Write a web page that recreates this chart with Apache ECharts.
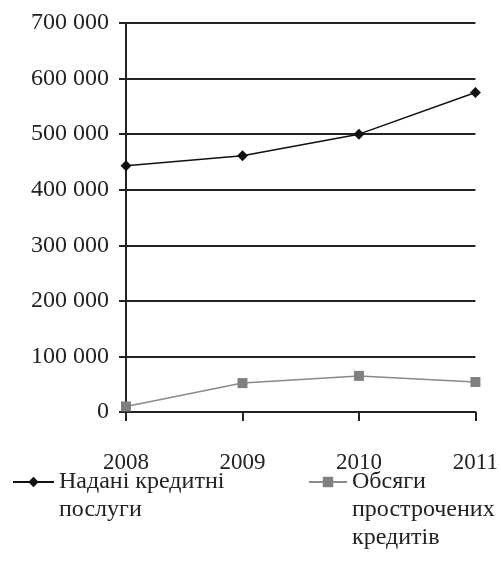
<!DOCTYPE html>
<html>
<head>
<meta charset="utf-8">
<script src="https://cdn.jsdelivr.net/npm/echarts@6/dist/echarts.min.js"></script>
<style>
  html, body { margin: 0; padding: 0; background: #fff; }
  #chart { width: 501px; height: 571px; }
</style>
</head>
<body>
<div id="chart"></div>
<script>
// дані
var years = ['2008', '2009', '2010', '2011'];
var credits = [443000, 461000, 500000, 575000];
var overdue = [10000, 52000, 65000, 54000];
var seriesNames = ['Надані кредитні\nпослуги', 'Обсяги\nпрострочених\nкредитів'];

var font = '"Liberation Serif", "DejaVu Serif", serif';
var chart = echarts.init(document.getElementById('chart'));

// порожні рядки зверху, щоб значок стояв навпроти першого рядка
function padLines(name) {
  var n = name.split('\n').length - 1;
  return new Array(n + 1).join('\n') + name;
}

chart.setOption({
  animation: false,
  grid: { left: 126, right: 23, top: 23, bottom: 159 },
  legend: [
    {
      data: [seriesNames[0]],
      left: 12, top: 440, padding: 0,
      itemWidth: 41, itemHeight: 13,
      formatter: padLines,
      textStyle: { fontFamily: font, fontSize: 24, color: '#222', lineHeight: 28 }
    },
    {
      data: [seriesNames[1]],
      left: 308, top: 412, padding: 0,
      itemWidth: 38, itemHeight: 13,
      formatter: padLines,
      textStyle: { fontFamily: font, fontSize: 24, color: '#222', lineHeight: 28 }
    }
  ],
  xAxis: {
    type: 'category',
    data: years,
    boundaryGap: false,
    axisLine: { lineStyle: { color: '#222', width: 2 } },
    axisTick: { length: 9, lineStyle: { color: '#222', width: 2 } },
    axisLabel: { margin: 39, fontFamily: font, fontSize: 23, color: '#222' }
  },
  yAxis: {
    type: 'value',
    min: 0, max: 700000, interval: 100000,
    axisLine: { show: true, lineStyle: { color: '#222', width: 2 } },
    axisTick: { show: true, length: 7, lineStyle: { color: '#222', width: 2 } },
    splitLine: { lineStyle: { color: '#222', width: 2 } },
    axisLabel: {
      margin: 17, fontFamily: font, fontSize: 24, color: '#222',
      formatter: function (v) {
        return v === 0 ? '0' : String(v).replace(/\B(?=(\d{3})+(?!\d))/g, ' ');
      }
    }
  },
  series: [
    {
      name: seriesNames[0],
      type: 'line',
      data: credits,
      symbol: 'diamond', symbolSize: 11,
      lineStyle: { color: '#111', width: 1.5 },
      itemStyle: { color: '#111' }
    },
    {
      name: seriesNames[1],
      type: 'line',
      data: overdue,
      symbol: 'rect', symbolSize: 10,
      lineStyle: { color: '#8a8a8a', width: 1.5 },
      itemStyle: { color: '#808080' }
    }
  ]
});
</script>
</body>
</html>
